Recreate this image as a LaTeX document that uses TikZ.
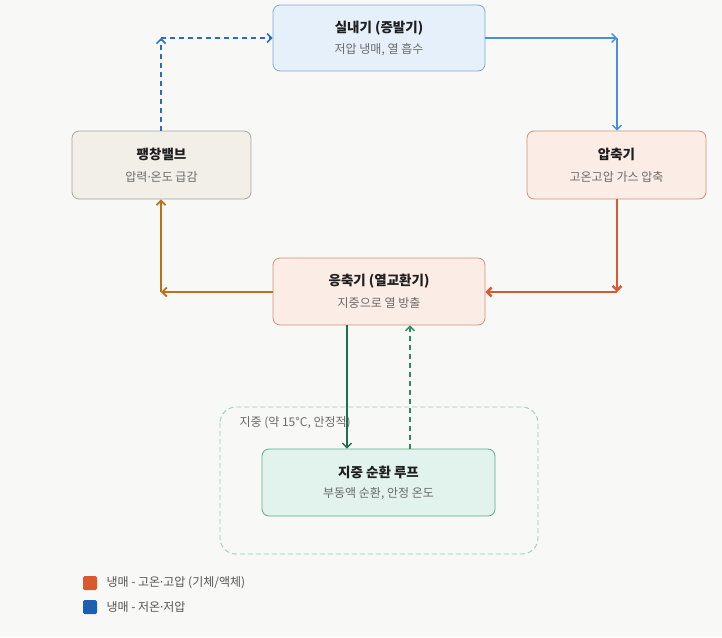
\documentclass[tikz,border=0pt]{standalone}
\usepackage{fontspec}
\setmainfont{Noto Sans CJK KR}
\newfontfamily\latinfont{Noto Sans}
\newcommand{\mdot}{{\latinfont ·}}
\usetikzlibrary{arrows.meta}
\definecolor{bg}{HTML}{F8F8F6}
\definecolor{bluefill}{HTML}{E6F0FB}
\definecolor{blueline}{HTML}{7FA8D8}
\definecolor{grayfill}{HTML}{F1EFE8}
\definecolor{grayline}{HTML}{A9A59C}
\definecolor{orfill}{HTML}{FBECE6}
\definecolor{orline}{HTML}{D0907A}
\definecolor{grfill}{HTML}{E1F3EC}
\definecolor{grline}{HTML}{5FAA8C}
\definecolor{grdash}{HTML}{9ECBB6}
\definecolor{cblue}{HTML}{4A8FDC}
\definecolor{cdblue}{HTML}{2C6CB8}
\definecolor{corange}{HTML}{D95A30}
\definecolor{cbrown}{HTML}{B8721C}
\definecolor{cgreen}{HTML}{1E6E52}
\definecolor{cgreen2}{HTML}{2E8A60}
\definecolor{subtxt}{HTML}{6A6A6A}
\definecolor{legtxt}{HTML}{555555}
\definecolor{titletxt}{HTML}{1E1E1E}
\definecolor{legor}{HTML}{D95A30}
\definecolor{legbl}{HTML}{1F5FAD}
\tikzset{
  box/.style={draw, rounded corners=7pt, line width=0.8pt, inner sep=0pt},
  ttl/.style={font=\fontsize{13.5}{15}\selectfont\bfseries, text=titletxt},
  sub/.style={font=\fontsize{12}{14}\selectfont, text=subtxt},
  arr/.style={-{Straight Barb[length=4.5pt,width=9pt]}},
}
\begin{document}
\begin{tikzpicture}[x=1pt,y=-1pt]
\fill[bg] (0,0) rectangle (722,637);
\useasboundingbox (0,0) rectangle (722,637);

% group
\draw[grdash, dash pattern=on 5pt off 3pt, line width=0.9pt, rounded corners=16pt] (220,407) rectangle (538,554);
\node[anchor=west, font=\fontsize{12}{14}\selectfont, text=subtxt] (grp) at (236,423) {지중 (약 15°C, 안정적)};

% boxes
\node[box, fill=bluefill, draw=blueline, minimum width=212pt, minimum height=66pt] (indoor) at (379,38) {};
\node[ttl] (indoorT) at (379,28) {실내기 (증발기)};
\node[sub] (indoorS) at (379,50) {저압 냉매, 열 흡수};

\node[box, fill=grayfill, draw=grayline, minimum width=179pt, minimum height=68pt] (valve) at (161.5,165) {};
\node[ttl] (valveT) at (161.5,154) {팽창밸브};
\node[sub] (valveS) at (161.5,177) {압력\mdot 온도 급감};

\node[box, fill=orfill, draw=orline, minimum width=179pt, minimum height=68pt] (comp) at (616.5,165) {};
\node[ttl] (compT) at (616.5,154) {압축기};
\node[sub] (compS) at (616.5,177) {고온고압 가스 압축};

\node[box, fill=orfill, draw=orline, minimum width=212pt, minimum height=67pt] (cond) at (379,291.5) {};
\node[ttl] (condT) at (379,281) {응축기 (열교환기)};
\node[sub] (condS) at (379,303) {지중으로 열 방출};

\node[box, fill=grfill, draw=grline, minimum width=233pt, minimum height=67pt] (loop) at (378.5,482.5) {};
\node[ttl] (loopT) at (378.5,472) {지중 순환 루프};
\node[sub] (loopS) at (378.5,494) {부동액 순환, 안정 온도};

% corner coordinates
\coordinate (c1) at (617,38);
\coordinate (c2) at (617,292);
\coordinate (c3) at (161,292);
\coordinate (c4) at (161,38);

% connectors
\draw[arr, cblue, line width=1.4pt] (indoor.east) -- (c1);
\draw[arr, cblue, line width=1.4pt] (c1) -- (comp.north -| c1);

\draw[arr, corange, line width=2.4pt] (comp.south -| c2) -- (c2);
\draw[arr, corange, line width=2.4pt] (c2) -- (cond.east |- c2);

\draw[arr, cbrown, line width=1.8pt] (cond.west |- c3) -- (c3);
\draw[arr, cbrown, line width=1.8pt] (c3) -- (valve.south -| c3);

\draw[arr, cdblue, line width=1.5pt, dash pattern=on 5pt off 4pt] (valve.north -| c4) -- (c4);
\draw[arr, cdblue, line width=1.5pt, dash pattern=on 5pt off 4pt] (c4) -- (indoor.west |- c4);

\coordinate (g1) at (347,0);
\coordinate (g2) at (410,0);
\draw[arr, cgreen, line width=1.4pt] (cond.south -| g1) -- (loop.north -| g1);
\draw[arr, cgreen2, line width=1.4pt, dash pattern=on 5pt off 4pt] (loop.north -| g2) -- (cond.south -| g2);

% legend
\node[fill=legor, rounded corners=1.5pt, minimum size=14pt, inner sep=0pt] (l1) at (90,583) {};
\node[anchor=west, font=\fontsize{12}{14}\selectfont, text=legtxt] (l1t) at (103,583) {냉매 - 고온\mdot 고압 (기체/액체)};
\node[fill=legbl, rounded corners=1.5pt, minimum size=14pt, inner sep=0pt] (l2) at (90,607) {};
\node[anchor=west, font=\fontsize{12}{14}\selectfont, text=legtxt] (l2t) at (103,607) {냉매 - 저온\mdot 저압};
\end{tikzpicture}
\end{document}
